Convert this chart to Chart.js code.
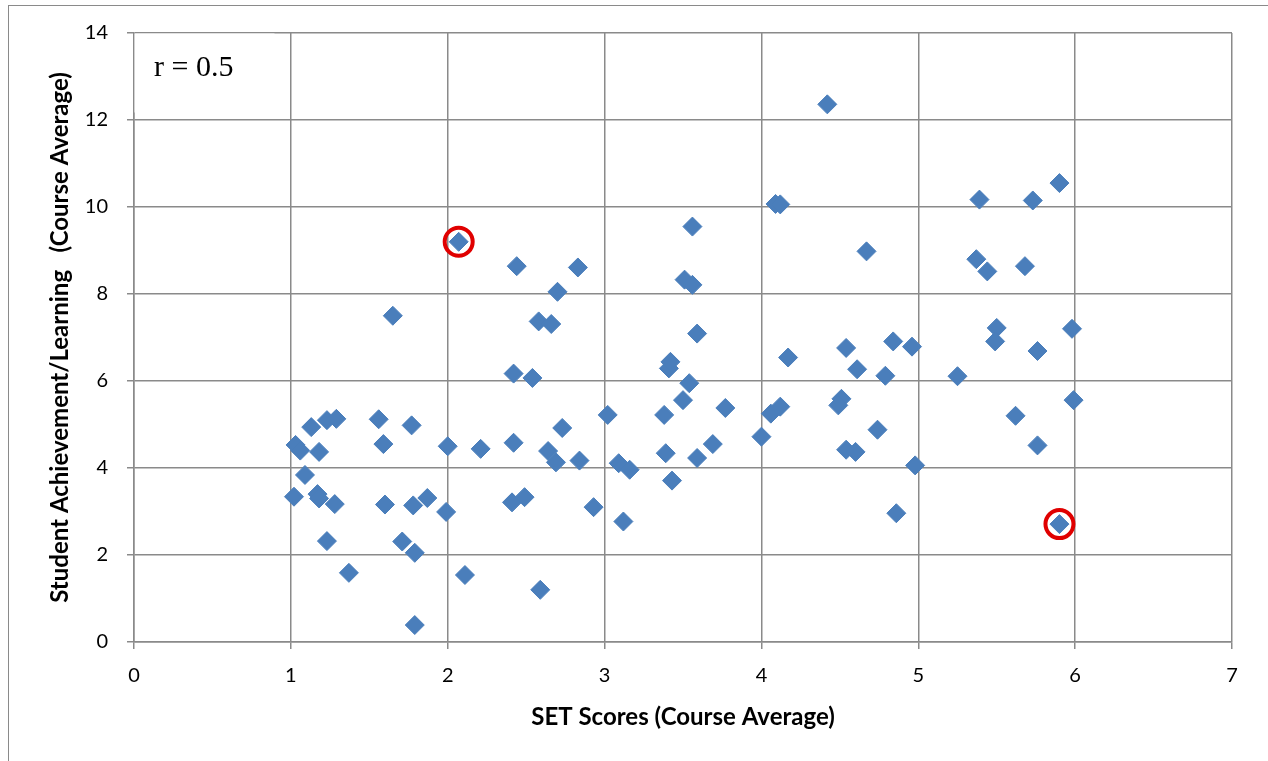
<!DOCTYPE html>
<html>
<head>
<meta charset="utf-8">
<script src="https://cdn.jsdelivr.net/npm/chart.js@4/dist/chart.umd.min.js"></script>
<style>
    body { margin: 0; background: #fff; overflow: hidden; }
    #wrap { position: relative; width: 1268px; height: 761px; }
    #frame {
        position: absolute; left: 8px; top: 5px; width: 1300px; height: 800px;
        border-left: 1px solid #8a8a8a; border-top: 1px solid #8a8a8a;
        pointer-events: none;
    }
</style>
</head>
<body>
<div id="wrap">
    <canvas id="scatterChart" width="1268" height="761"></canvas>
    <div id="frame"></div>
</div>
<script>
// SET score (x) and student achievement (y) per course
const setScores = [
    1.03, 1.06, 1.13, 1.02, 1.09, 1.18, 1.23, 1.29, 1.17, 1.18,
    1.28, 1.23, 1.37, 1.56, 1.59, 1.60, 1.65, 1.77, 1.71, 1.78,
    1.79, 1.87, 1.79, 2.00, 1.99, 2.07, 2.11, 2.21, 2.44, 2.42,
    2.42, 2.41, 2.49, 2.54, 2.59, 2.58, 2.66, 2.70, 2.64, 2.69,
    2.73, 2.83, 2.84, 2.93, 3.02, 3.09, 3.16, 3.12, 3.38, 3.39,
    3.43, 3.41, 3.42, 3.50, 3.51, 3.56, 3.54, 3.56, 3.59, 3.59,
    3.69, 3.77, 4.00, 4.06, 4.12, 4.09, 4.12, 4.17, 4.42, 4.51,
    4.49, 4.54, 4.54, 4.60, 4.61, 4.67, 4.74, 4.79, 4.84, 4.86,
    4.96, 4.98, 5.25, 5.37, 5.44, 5.39, 5.50, 5.49, 5.62, 5.68,
    5.73, 5.76, 5.76, 5.90, 5.98, 5.99, 5.90
];
const achievement = [
    4.53, 4.40, 4.94, 3.34, 3.84, 4.37, 5.10, 5.13, 3.40, 3.30,
    3.17, 2.32, 1.59, 5.12, 4.55, 3.16, 7.50, 4.98, 2.31, 3.14,
    2.05, 3.31, 0.39, 4.50, 2.99, 9.20, 1.54, 4.44, 8.64, 6.17,
    4.58, 3.21, 3.33, 6.07, 1.20, 7.37, 7.31, 8.05, 4.39, 4.13,
    4.92, 8.61, 4.17, 3.10, 5.22, 4.11, 3.96, 2.77, 5.22, 4.34,
    3.71, 6.29, 6.44, 5.56, 8.33, 8.21, 5.95, 9.55, 7.09, 4.23,
    4.55, 5.38, 4.72, 5.25, 5.41, 10.07, 10.06, 6.54, 12.36, 5.59,
    5.44, 6.76, 4.42, 4.37, 6.27, 8.98, 4.88, 6.12, 6.91, 2.96,
    6.79, 4.06, 6.11, 8.80, 8.52, 10.17, 7.22, 6.91, 5.20, 8.64,
    10.15, 6.69, 4.52, 10.55, 7.20, 5.56, 2.71
];

// the two courses circled in red
const circledX = [2.07, 5.90];
const circledY = [9.20, 2.71];

const xTitle = "SET Scores (Course Average)";
const yTitle = "Student Achievement/Learning   (Course Average)";
const rLabel = "r = 0.5";

const points = setScores.map((x, i) => ({ x: x, y: achievement[i] }));
const circled = circledX.map((x, i) => ({ x: x, y: circledY[i] }));

// white box with the correlation label in the top left corner
const rBox = {
    id: "rBox",
    beforeDatasetsDraw(chart) {
        const { ctx, chartArea } = chart;
        ctx.save();
        ctx.fillStyle = "#fff";
        ctx.fillRect(chartArea.left + 0.5, chartArea.top + 0.5, 140, 79);
        ctx.fillStyle = "#000";
        ctx.font = '30px "Liberation Serif"';
        ctx.textBaseline = "alphabetic";
        ctx.fillText(rLabel, chartArea.left + 20, chartArea.top + 43);
        ctx.restore();
    }
};

const gridColor = "#8a8a8a";
const tickFont = { family: "Lato", size: 20 };
const titleFont = { family: "Lato", size: 24, weight: "bold" };

new Chart(document.getElementById("scatterChart"), {
    type: "scatter",
    data: {
        datasets: [
            {
                label: "circled",
                data: circled,
                pointStyle: "circle",
                pointRadius: 14,
                borderWidth: 4,
                borderColor: "#e00000",
                backgroundColor: "rgba(0,0,0,0)"
            },
            {
                label: "courses",
                data: points,
                pointStyle: "rectRot",
                pointRadius: 9.5,
                borderWidth: 1,
                borderColor: "#4a7ebb",
                backgroundColor: "#4a7ebb"
            }
        ]
    },
    options: {
        responsive: false,
        animation: false,
        events: [],
        layout: { padding: { top: 33, right: 36, left: 0, bottom: 0 } },
        plugins: {
            legend: { display: false },
            tooltip: { enabled: false }
        },
        scales: {
            x: {
                type: "linear",
                min: 0,
                max: 7,
                afterFit: (scale) => { scale.height = 119; },
                ticks: { stepSize: 1, color: "#000", font: tickFont, padding: 15 },
                grid: { color: gridColor, lineWidth: 1.5, tickLength: 7 },
                border: { color: gridColor, width: 1.5 },
                title: {
                    display: true,
                    text: xTitle,
                    color: "#000",
                    font: titleFont,
                    padding: { top: 0, bottom: 29 }
                }
            },
            y: {
                type: "linear",
                min: 0,
                max: 14,
                afterFit: (scale) => { scale.width = 134; },
                ticks: { stepSize: 2, color: "#000", font: tickFont, padding: 19 },
                grid: { color: gridColor, lineWidth: 1.5, tickLength: 7 },
                border: { color: gridColor, width: 1.5 },
                title: {
                    display: true,
                    text: yTitle,
                    color: "#000",
                    font: titleFont,
                    padding: { top: 46, bottom: 0 }
                }
            }
        }
    },
    plugins: [rBox]
});
</script>
</body>
</html>
